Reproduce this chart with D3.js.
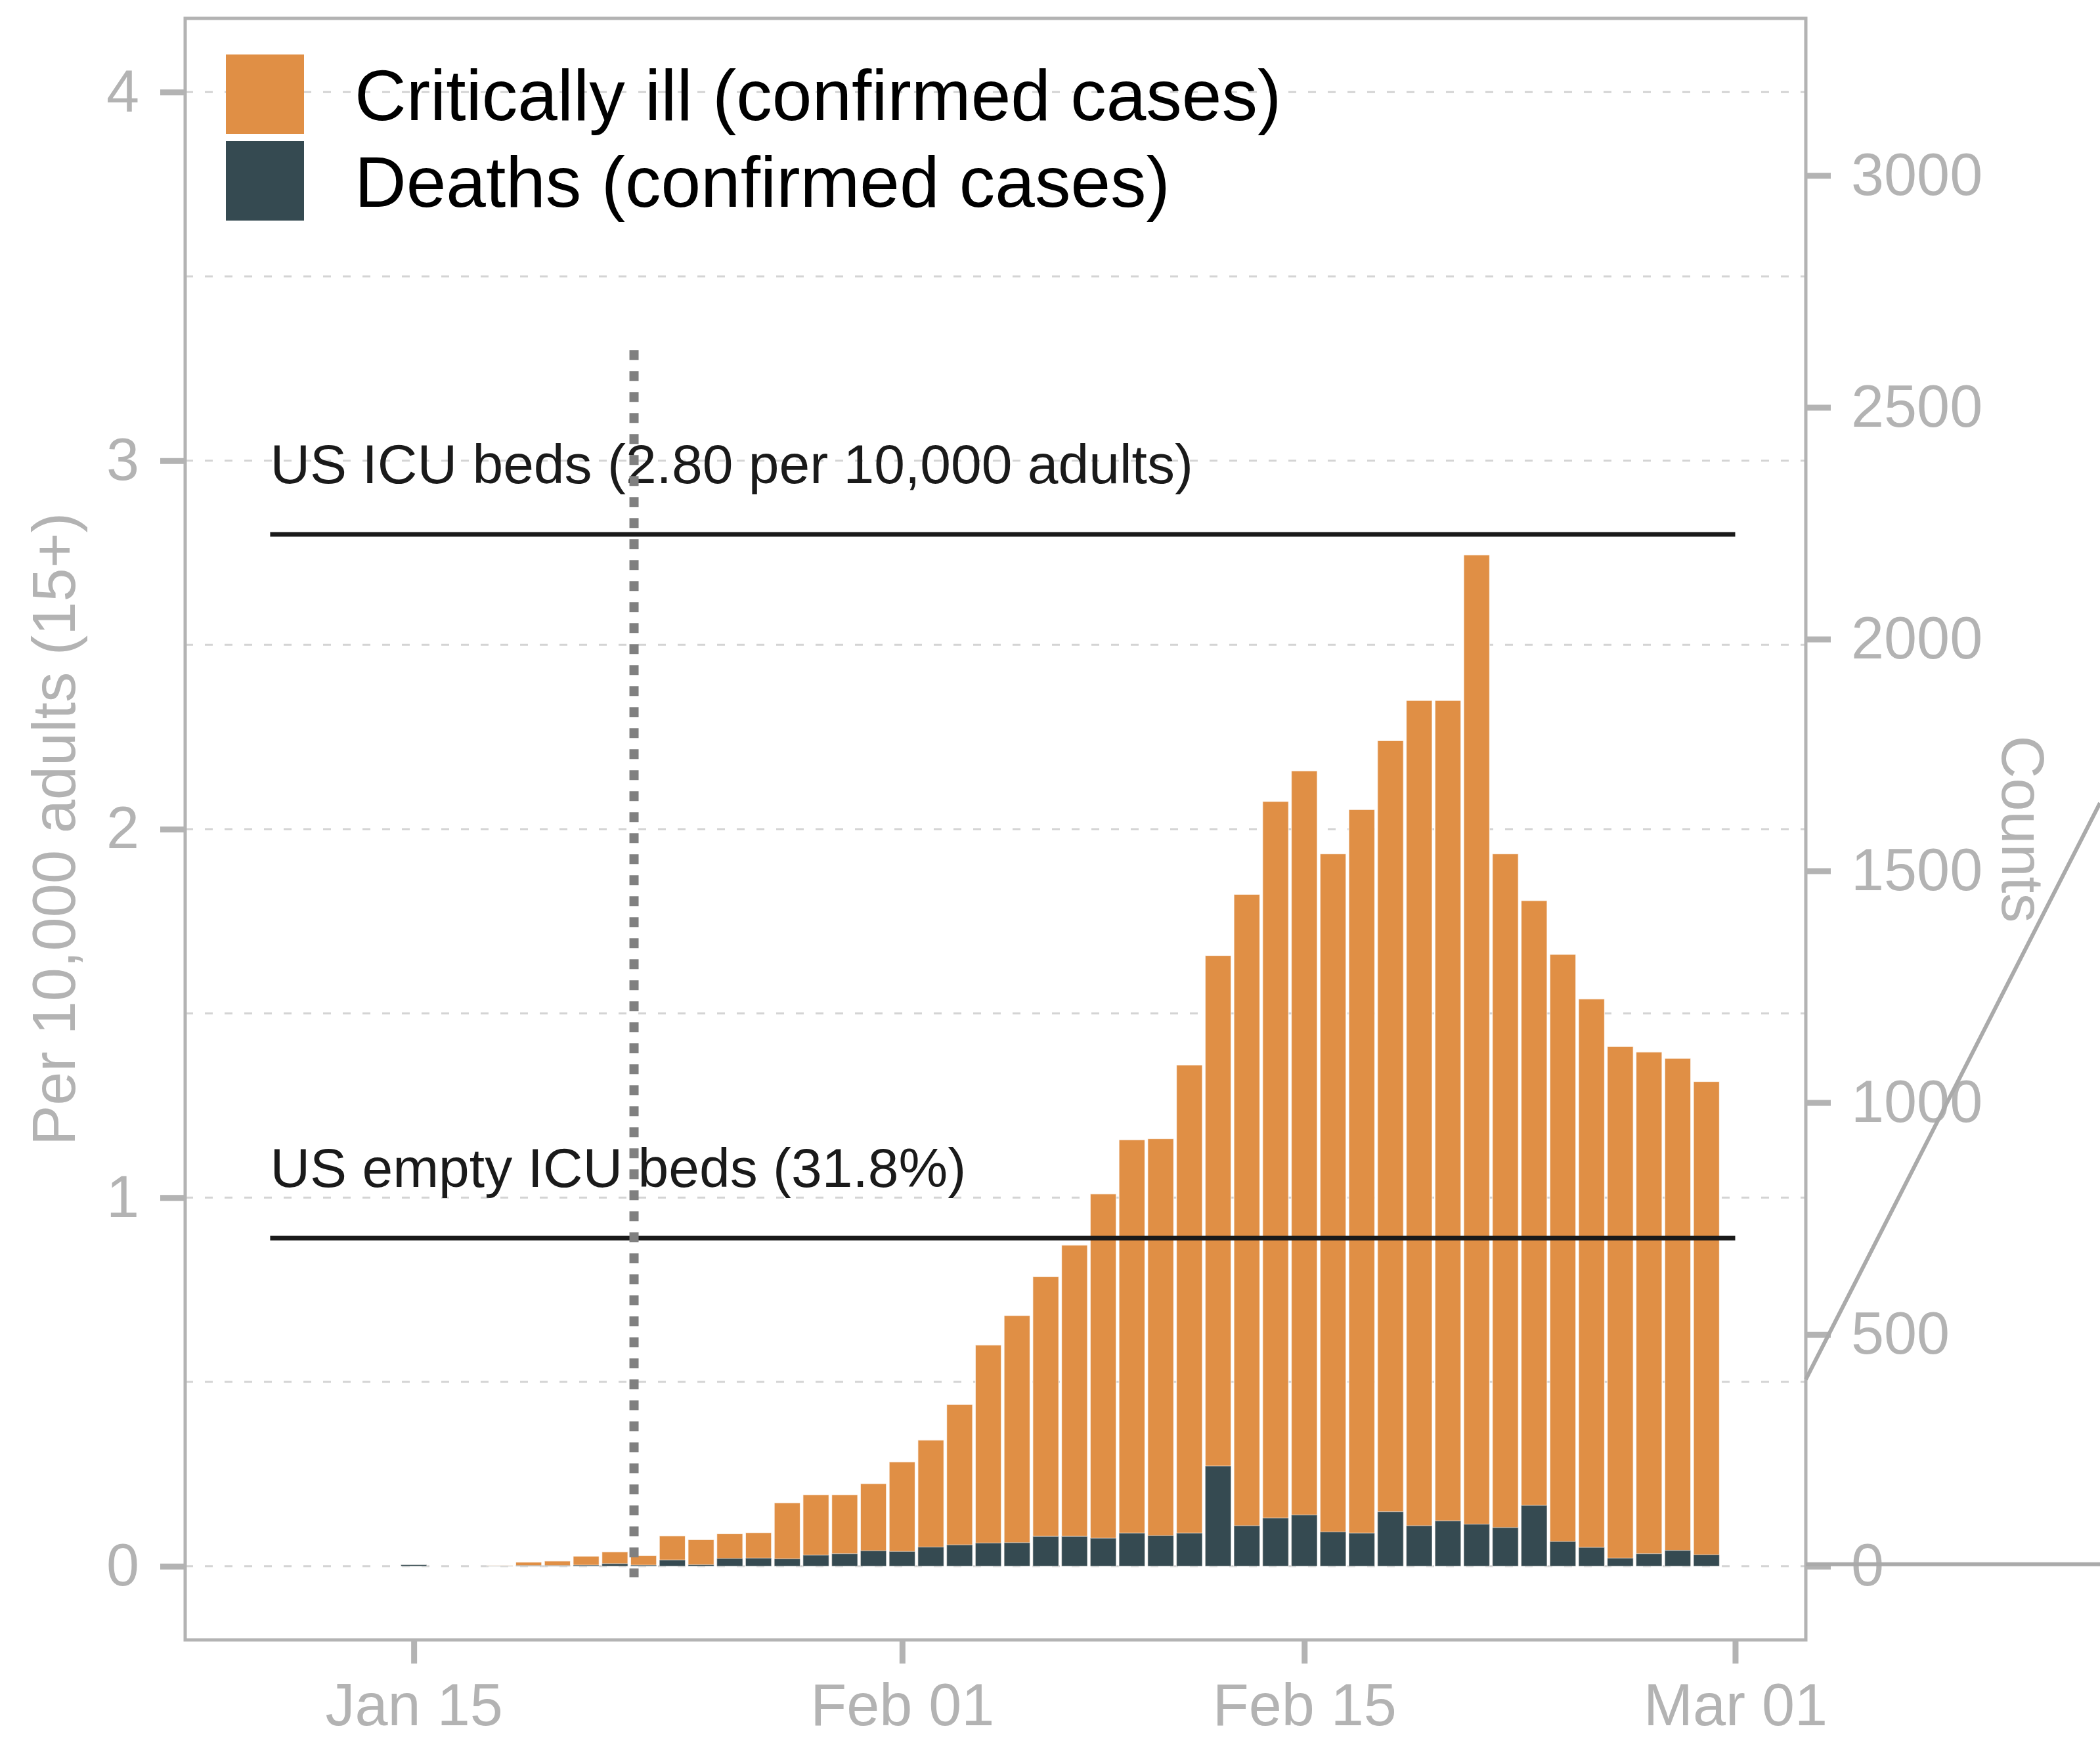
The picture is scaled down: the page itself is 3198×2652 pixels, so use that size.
<!DOCTYPE html>
<html>
<head>
<meta charset="utf-8">
<script src="https://cdn.jsdelivr.net/npm/d3@7"></script>
<style>
  body { margin: 0; background: #ffffff; }
  text { font-family: "Liberation Sans", Arial, sans-serif; }
</style>
</head>
<body>
<div id="maViz"></div>
<script>
//////////////////////////////////////////
// DONNEES
//////////////////////////////////////////
const dates = [
  "2020-01-15","2020-01-16","2020-01-17","2020-01-18","2020-01-19","2020-01-20","2020-01-21",
  "2020-01-22","2020-01-23","2020-01-24","2020-01-25","2020-01-26","2020-01-27","2020-01-28",
  "2020-01-29","2020-01-30","2020-01-31","2020-02-01","2020-02-02","2020-02-03","2020-02-04",
  "2020-02-05","2020-02-06","2020-02-07","2020-02-08","2020-02-09","2020-02-10","2020-02-11",
  "2020-02-12","2020-02-13","2020-02-14","2020-02-15","2020-02-16","2020-02-17","2020-02-18",
  "2020-02-19","2020-02-20","2020-02-21","2020-02-22","2020-02-23","2020-02-24","2020-02-25",
  "2020-02-26","2020-02-27","2020-02-28","2020-02-29"
];
// per 10,000 adults (15+) - orange bar full height
const critical = [
  0.004, 0, 0, 0.002, 0.011, 0.014, 0.027,
  0.039, 0.029, 0.082, 0.072, 0.088, 0.091, 0.172,
  0.194, 0.194, 0.224, 0.283, 0.342, 0.439, 0.600,
  0.680, 0.786, 0.871, 1.010, 1.157, 1.160, 1.360,
  1.657, 1.823, 2.075, 2.158, 1.933, 2.053, 2.240,
  2.349, 2.349, 2.744, 1.933, 1.806, 1.660, 1.539,
  1.410, 1.395, 1.378, 1.315
];
const deaths = [
  0.004, 0, 0, 0.001, 0.002, 0.002, 0.003,
  0.007, 0.003, 0.017, 0.004, 0.021, 0.022, 0.020,
  0.030, 0.034, 0.042, 0.040, 0.052, 0.058, 0.063,
  0.064, 0.081, 0.081, 0.076, 0.090, 0.083, 0.090,
  0.272, 0.110, 0.131, 0.139, 0.093, 0.090, 0.148,
  0.110, 0.123, 0.114, 0.105, 0.165, 0.067, 0.051,
  0.022, 0.034, 0.043, 0.031
];
const seriesNames = ["Critically ill (confirmed cases)", "Deaths (confirmed cases)"];
const seriesColors = ["#e08f45", "#354a51"];

const xTicks = ["2020-01-15", "2020-02-01", "2020-02-15", "2020-03-01"];
const yTicks = [0, 1, 2, 3, 4];
const yGrid = [0, 0.5, 1, 1.5, 2, 2.5, 3, 3.5, 4];
const countTicks = [0, 500, 1000, 1500, 2000, 2500, 3000];
const countsPerUnit = 795; // counts for 1 per 10,000

const icuBeds = 2.80;
const emptyShare = 0.318;
const lineStart = "2020-01-10", lineEnd = "2020-03-01";
const lockdown = "2020-01-22T16:00:00Z"; // 23 Jan, Beijing time

const parse = s => new Date(s.length > 10 ? s : s + "T00:00:00Z");
const data = dates.map((d, i) => ({date: parse(d), crit: critical[i], dead: deaths[i]}));

//////////////////////////////////////////
// CANEVAS
//////////////////////////////////////////
const W = 3198, H = 2652;
const panel = {left: 282, right: 2750, top: 28, bottom: 2498};
const grey = "#b3b3b3";

const svg = d3.select("#maViz").append("svg")
  .attr("width", W).attr("height", H)
  .style("display", "block");
svg.append("rect").attr("width", W).attr("height", H).attr("fill", "#ffffff");

//////////////////////////////////////////
// ECHELLES
//////////////////////////////////////////
const x = d3.scaleUtc()
  .domain([new Date(Date.UTC(2020, 0, 7, 1)), new Date(Date.UTC(2020, 2, 3, 11))])
  .range([panel.left, panel.right]);
const y = d3.scaleLinear().domain([-0.2, 4.2]).range([panel.bottom, panel.top]);
const yCount = d3.scaleLinear()
  .domain([-0.2 * countsPerUnit, 4.2 * countsPerUnit])
  .range([panel.bottom, panel.top]);

const dayW = x(parse("2020-01-16")) - x(parse("2020-01-15"));
const barW = dayW * 0.9;

//////////////////////////////////////////
// GRILLE
//////////////////////////////////////////
svg.append("g").selectAll("line")
  .data(yGrid)
  .join("line")
    .attr("x1", panel.left).attr("x2", panel.right)
    .attr("y1", d => y(d)).attr("y2", d => y(d))
    .attr("stroke", "#d4d4d4")
    .attr("stroke-width", 3)
    .attr("stroke-dasharray", "12 18");

//////////////////////////////////////////
// BARRES
//////////////////////////////////////////
const bars = svg.append("g");
bars.selectAll("rect.crit")
  .data(data.filter(d => d.crit > 0))
  .join("rect")
    .attr("class", "crit")
    .attr("x", d => x(d.date) - barW / 2)
    .attr("width", barW)
    .attr("y", d => y(d.crit))
    .attr("height", d => y(0) - y(d.crit))
    .attr("fill", seriesColors[0])
    .attr("stroke", "#ffffff").attr("stroke-width", 1.2).attr("stroke-opacity", 0.7);
bars.selectAll("rect.dead")
  .data(data.filter(d => d.dead > 0))
  .join("rect")
    .attr("class", "dead")
    .attr("x", d => x(d.date) - barW / 2)
    .attr("width", barW)
    .attr("y", d => y(d.dead))
    .attr("height", d => y(0) - y(d.dead))
    .attr("fill", seriesColors[1])
    .attr("stroke", "#ffffff").attr("stroke-width", 1.2).attr("stroke-opacity", 0.5);

//////////////////////////////////////////
// LIGNES DE REFERENCE
//////////////////////////////////////////
const refs = [
  {v: icuBeds, label: "US ICU beds (2.80 per 10,000 adults)"},
  {v: icuBeds * emptyShare, label: "US empty ICU beds (31.8%)"}
];
const refG = svg.append("g");
refG.selectAll("line")
  .data(refs)
  .join("line")
    .attr("x1", x(parse(lineStart))).attr("x2", x(parse(lineEnd)))
    .attr("y1", d => y(d.v)).attr("y2", d => y(d.v))
    .attr("stroke", "#1a1a1a").attr("stroke-width", 7);
refG.selectAll("text")
  .data(refs)
  .join("text")
    .attr("x", x(parse(lineStart)))
    .attr("y", d => y(d.v) - 78)
    .attr("font-size", 84)
    .attr("fill", "#1a1a1a")
    .text(d => d.label);

// ligne verticale pointillee
svg.append("line")
  .attr("x1", x(parse(lockdown))).attr("x2", x(parse(lockdown)))
  .attr("y1", y(3.3)).attr("y2", y(-0.03))
  .attr("stroke", "#808080").attr("stroke-width", 14)
  .attr("stroke-dasharray", "15 17");

//////////////////////////////////////////
// AXES
//////////////////////////////////////////
function styleAxis(g) {
  g.select(".domain").remove();
  g.selectAll(".tick line").attr("stroke", grey).attr("stroke-width", 9);
  g.selectAll(".tick text").attr("fill", grey).attr("font-size", 90)
    .attr("font-family", "Liberation Sans, Arial, sans-serif");
}

svg.append("g")
  .attr("transform", `translate(${panel.left},0)`)
  .call(d3.axisLeft(y).tickValues(yTicks).tickSize(38).tickPadding(32).tickFormat(d3.format("d")))
  .call(styleAxis);

svg.append("g")
  .attr("transform", `translate(${panel.right},0)`)
  .call(d3.axisRight(yCount).tickValues(countTicks).tickSize(38).tickPadding(31).tickFormat(d3.format("d")))
  .call(styleAxis);

svg.append("g")
  .attr("transform", `translate(0,${panel.bottom})`)
  .call(d3.axisBottom(x).tickValues(xTicks.map(parse)).tickSize(36).tickPadding(30)
    .tickFormat(d3.utcFormat("%b %d")))
  .call(styleAxis);

// cadre du panneau
svg.append("rect")
  .attr("x", panel.left).attr("y", panel.top)
  .attr("width", panel.right - panel.left).attr("height", panel.bottom - panel.top)
  .attr("fill", "none").attr("stroke", grey).attr("stroke-width", 5);

// titres d'axes
svg.append("text")
  .attr("transform", `translate(114,${(panel.top + panel.bottom) / 2}) rotate(-90)`)
  .attr("text-anchor", "middle")
  .attr("font-size", 92).attr("fill", grey)
  .text("Per 10,000 adults (15+)");
svg.append("text")
  .attr("transform", `translate(3049,1263) rotate(90)`)
  .attr("text-anchor", "middle")
  .attr("font-size", 90).attr("fill", grey)
  .text("Counts");

// traits de liaison a droite (figure composee)
svg.append("line")
  .attr("x1", panel.right).attr("x2", W)
  .attr("y1", y(0) - 3).attr("y2", y(0) - 3)
  .attr("stroke", "#aaaaaa").attr("stroke-width", 6);
svg.append("line")
  .attr("x1", panel.right).attr("x2", W)
  .attr("y1", y(0.507)).attr("y2", y(2.071))
  .attr("stroke", "#aaaaaa").attr("stroke-width", 6);

//////////////////////////////////////////
// LEGENDE
//////////////////////////////////////////
const legend = svg.append("g").attr("transform", "translate(344,83)");
const leg = legend.selectAll("g")
  .data(seriesNames)
  .join("g")
    .attr("transform", (d, i) => `translate(0,${i * 132})`);
leg.append("rect")
  .attr("width", 119).attr("height", 121)
  .attr("fill", (d, i) => seriesColors[i]);
leg.append("text")
  .attr("x", 196).attr("y", 100)
  .attr("font-size", 109)
  .attr("fill", "#000000")
  .text(d => d);
</script>
</body>
</html>
